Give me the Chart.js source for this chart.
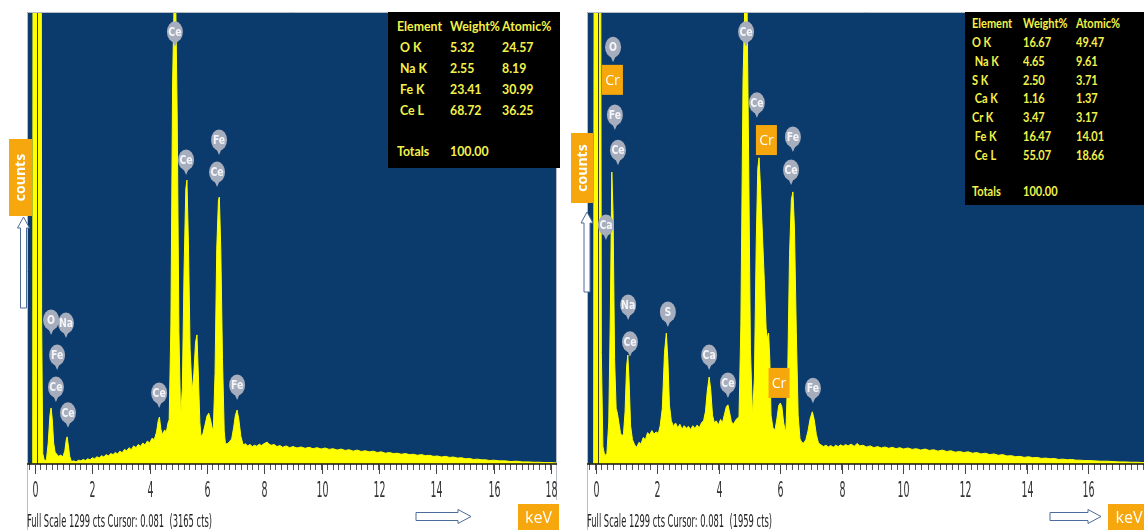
<!DOCTYPE html>
<html>
<head>
<meta charset="utf-8">
<script src="https://cdn.jsdelivr.net/npm/chart.js@4.4.1/dist/chart.umd.min.js"></script>
<style>
  body { margin: 0; width: 1144px; height: 530px; overflow: hidden; background: #fff; position: relative; }
  canvas { position: absolute; top: 0; }
  #specA { left: 0; }
  #specB { left: 570px; }
  .tbl { position: absolute; background: #000; overflow: hidden; color: #f3f24a;
         font-family: Lato, "Noto Sans", sans-serif; font-weight: bold; }
  .tbl span { position: absolute; white-space: pre; line-height: 1; transform: scaleX(0.88); transform-origin: left center; }
</style>
</head>
<body>
<canvas id="specA" width="570" height="530"></canvas>
<canvas id="specB" width="574" height="530"></canvas>
<div class="tbl" id="tblA" style="left:388px;top:12px;width:172px;height:156px;font-size:14px"></div>
<div class="tbl" id="tblB" style="left:965px;top:12px;width:190px;height:193px;font-size:12.5px"></div>
<script>
// ---- data (energy in keV, intensity in counts) ----
const fullScale = 1299;
const cursorKeV = 0.081;
const tickLabels = [0, 2, 4, 6, 8, 10, 12, 14, 16, 18];
const minorStep = 0.2;

const energyA = [-0.28, -0.08, -0.06, 0.08, 0.20, 0.23, 0.27, 0.33, 0.40, 0.46, 0.52, 0.56, 0.60, 0.65, 0.70, 0.76, 0.82, 0.90, 0.97, 1.04,
  1.09, 1.12, 1.16, 1.21, 1.27, 1.35, 1.43, 1.52, 1.60, 1.68, 1.76, 1.84, 1.92, 2.00, 2.08, 2.16, 2.24, 2.32, 2.40, 2.48,
  2.56, 2.64, 2.72, 2.80, 2.88, 2.96, 3.04, 3.12, 3.20, 3.28, 3.36, 3.44, 3.52, 3.60, 3.68, 3.76, 3.84, 3.92, 4.00, 4.08,
  4.16, 4.24, 4.30, 4.34, 4.39, 4.45, 4.52, 4.58, 4.64, 4.68, 4.74, 4.80, 4.85, 4.91, 4.96, 5.02, 5.08, 5.14, 5.20, 5.26,
  5.30, 5.35, 5.41, 5.48, 5.54, 5.60, 5.65, 5.70, 5.75, 5.79, 5.86, 5.93, 6.00, 6.06, 6.12, 6.18, 6.22, 6.28, 6.34, 6.40,
  6.43, 6.48, 6.54, 6.60, 6.64, 6.70, 6.78, 6.86, 6.93, 6.99, 7.05, 7.11, 7.18, 7.26, 7.34, 7.42, 7.50, 7.58, 7.66, 7.74,
  7.82, 7.90, 7.98, 8.05, 8.10, 8.16, 8.24, 8.34, 8.44, 8.54, 8.64, 8.76, 8.88, 9.00, 9.14, 9.28, 9.42, 9.56, 9.70, 9.84,
  9.98, 10.12, 10.26, 10.40, 10.54, 10.68, 10.82, 10.96, 11.10, 11.24, 11.38, 11.52, 11.66, 11.80, 11.94, 12.08, 12.22, 12.36, 12.50, 12.64,
  12.78, 12.92, 13.06, 13.20, 13.34, 13.48, 13.62, 13.76, 13.90, 14.04, 14.18, 14.32, 14.46, 14.60, 14.74, 14.88, 15.02, 15.16, 15.30, 15.44,
  15.58, 15.72, 15.86, 16.00, 16.20, 16.40, 16.60, 16.80, 17.00, 17.20, 17.40, 17.60, 17.80, 18.00, 18.21];
const countsA = [0, 0, 3165, 3165, 3165, 420, 30, 8, 14, 60, 140, 161, 130, 60, 34, 28, 22, 26, 20, 38,
  70, 78, 55, 22, 7, 9, 6, 11, 9, 13, 10, 15, 12, 18, 15, 21, 17, 24, 20, 27,
  23, 30, 27, 33, 29, 37, 32, 42, 38, 47, 41, 52, 47, 56, 51, 60, 55, 66, 60, 74,
  70, 92, 125, 135, 100, 84, 98, 92, 118, 127, 400, 1100, 1320, 1320, 1000, 380, 132, 220, 560, 790,
  816, 640, 330, 207, 260, 350, 371, 250, 120, 78, 88, 112, 138, 146, 128, 104, 98, 260, 620, 760,
  767, 620, 300, 95, 60, 57, 64, 72, 105, 140, 155, 128, 80, 55, 58, 52, 56, 50, 54, 51,
  57, 53, 58, 61, 63, 57, 54, 56, 50, 53, 48, 52, 47, 50, 46, 49, 45, 48, 44, 47,
  43, 46, 42, 44, 40, 43, 39, 41, 37, 40, 36, 38, 35, 37, 33, 35, 31, 33, 30, 31,
  28, 30, 27, 28, 25, 27, 24, 25, 22, 23, 20, 22, 19, 20, 17, 18, 15, 16, 13, 14,
  12, 12, 10, 11, 9, 9, 7, 8, 6, 6, 5, 5, 4, 4, 3];

const energyB = [-0.28, -0.06, -0.04, 0.08, 0.16, 0.19, 0.24, 0.30, 0.37, 0.43, 0.48, 0.53, 0.57, 0.62, 0.67, 0.71, 0.76, 0.81, 0.86, 0.91,
  0.96, 1.01, 1.05, 1.09, 1.14, 1.20, 1.27, 1.34, 1.41, 1.48, 1.55, 1.62, 1.69, 1.76, 1.83, 1.90, 1.97, 2.04, 2.10, 2.17,
  2.24, 2.30, 2.35, 2.40, 2.46, 2.53, 2.60, 2.67, 2.74, 2.81, 2.88, 2.95, 3.02, 3.09, 3.16, 3.23, 3.30, 3.37, 3.44, 3.51,
  3.57, 3.63, 3.69, 3.74, 3.80, 3.86, 3.92, 3.99, 4.06, 4.12, 4.18, 4.25, 4.30, 4.35, 4.41, 4.48, 4.55, 4.61, 4.66, 4.72,
  4.79, 4.85, 4.92, 4.97, 5.03, 5.10, 5.16, 5.22, 5.27, 5.31, 5.36, 5.42, 5.48, 5.54, 5.58, 5.62, 5.66, 5.70, 5.76, 5.83,
  5.89, 5.95, 6.00, 6.05, 6.11, 6.18, 6.24, 6.30, 6.36, 6.41, 6.46, 6.52, 6.58, 6.64, 6.70, 6.76, 6.83, 6.90, 6.97, 7.04,
  7.10, 7.17, 7.24, 7.32, 7.40, 7.48, 7.56, 7.64, 7.72, 7.80, 7.88, 7.96, 8.04, 8.12, 8.20, 8.30, 8.40, 8.50, 8.58, 8.68,
  8.80, 8.92, 9.04, 9.16, 9.28, 9.40, 9.52, 9.64, 9.76, 9.88, 10.00, 10.14, 10.28, 10.42, 10.56, 10.70, 10.84, 10.98, 11.12, 11.26,
  11.40, 11.54, 11.68, 11.82, 11.96, 12.10, 12.24, 12.38, 12.52, 12.66, 12.80, 12.94, 13.08, 13.22, 13.36, 13.50, 13.64, 13.78, 13.92, 14.06,
  14.20, 14.34, 14.48, 14.62, 14.76, 14.90, 15.04, 15.18, 15.32, 15.46, 15.60, 15.74, 15.88, 16.02, 16.20, 16.40, 16.60, 16.80, 17.00, 17.20,
  17.40, 17.60, 17.81];
const countsB = [0, 0, 1959, 1959, 1959, 320, 50, 24, 30, 120, 420, 839, 720, 300, 160, 146, 118, 90, 78, 88,
  150, 280, 313, 240, 110, 70, 55, 48, 62, 58, 76, 70, 90, 84, 96, 86, 92, 88, 110, 160,
  320, 376, 300, 170, 125, 108, 118, 104, 114, 100, 110, 103, 108, 99, 110, 102, 112, 104, 118, 125,
  150, 210, 250, 215, 140, 118, 124, 112, 128, 118, 140, 165, 170, 150, 122, 114, 126, 132, 135, 400,
  1100, 1330, 1330, 900, 330, 135, 250, 640, 850, 880, 790, 660, 530, 390, 360, 376, 300, 140, 104, 98,
  130, 168, 175, 165, 118, 89, 250, 600, 760, 782, 680, 380, 140, 72, 62, 60, 70, 95, 130, 150,
  128, 85, 60, 55, 50, 54, 49, 53, 48, 54, 50, 55, 51, 56, 52, 57, 51, 59, 52, 54,
  49, 52, 47, 50, 46, 49, 45, 48, 44, 47, 43, 46, 42, 44, 40, 43, 39, 41, 37, 40,
  36, 38, 34, 36, 33, 35, 31, 33, 29, 31, 27, 29, 25, 27, 23, 24, 21, 22, 19, 21,
  18, 19, 16, 17, 15, 16, 13, 14, 12, 13, 11, 11, 10, 10, 9, 8, 8, 7, 6, 6,
  5, 5, 4];

// element markers: [symbol, keV, counts] at the centre of each marker
const pinsA = [['O', 0.56, 414], ['Na', 1.08, 405], ['Fe', 0.77, 313], ['Ce', 0.73, 221], ['Ce', 1.15, 147],
  ['Ce', 4.33, 204], ['Ce', 4.88, 1242], ['Ce', 5.27, 874], ['Fe', 6.42, 931], ['Ce', 6.35, 839], ['Fe', 7.05, 227]];
const pinsB = [['O', 0.57, 1198], ['Fe', 0.63, 1003], ['Ce', 0.73, 902], ['Ca', 0.34, 687], ['Na', 1.06, 457], ['Ce', 1.12, 351],
  ['S', 2.35, 437], ['Ca', 3.69, 313], ['Ce', 4.30, 233], ['Ce', 4.89, 1242], ['Ce', 5.24, 1038], ['Fe', 6.41, 940],
  ['Ce', 6.35, 845], ['Fe', 7.06, 218]];
const crB = [['Cr', 0.55, 1104], ['Cr', 5.55, 931], ['Cr', 5.96, 233]];

// quantification tables
const elementsA = [' O K', ' Na K', ' Fe K', ' Ce L'];
const weightA = ['5.32', '2.55', '23.41', '68.72'];
const atomicA = ['24.57', '8.19', '30.99', '36.25'];
const elementsB = ['O K', ' Na K', 'S K', ' Ca K', 'Cr K', ' Fe K', ' Ce L'];
const weightB = ['16.67', '4.65', '2.50', '1.16', '3.47', '16.47', '55.07'];
const atomicB = ['49.47', '9.61', '3.71', '1.37', '3.17', '14.01', '18.66'];
const totals = '100.00';
const cursorCountsA = 3165;
const cursorCountsB = 1959;

// ---- drawing helpers ----
const ORANGE = '#f5a70d';

function squish(ctx, text, x, y, font, sx, align) {
  ctx.save();
  ctx.font = font;
  ctx.textAlign = align || 'left';
  ctx.translate(x, y);
  ctx.scale(sx, 1);
  ctx.fillText(text, 0, 0);
  ctx.restore();
}

function drawPin(ctx, px, py, text) {
  ctx.fillStyle = '#a6adbd';
  ctx.beginPath();
  ctx.ellipse(px, py, 8, 10.5, 0, 0, Math.PI * 2);
  ctx.fill();
  ctx.beginPath();
  ctx.moveTo(px - 3, py + 8);
  ctx.lineTo(px + 3, py + 8);
  ctx.lineTo(px, py + 15);
  ctx.closePath();
  ctx.fill();
  ctx.fillStyle = '#f4f5f8';
  ctx.textBaseline = 'middle';
  squish(ctx, text, px, py + 0.5, 'bold 13px "Liberation Sans Narrow", "DejaVu Sans Condensed", sans-serif', 0.8, 'center');
  ctx.textBaseline = 'alphabetic';
}

function drawBox(ctx, x, y, w, h, text, font, rotate) {
  ctx.fillStyle = ORANGE;
  ctx.fillRect(x, y, w, h);
  ctx.save();
  ctx.fillStyle = '#fff';
  ctx.font = font;
  ctx.textAlign = 'center';
  ctx.textBaseline = 'middle';
  ctx.translate(x + w / 2, y + h / 2);
  if (rotate) ctx.rotate(-Math.PI / 2);
  ctx.fillText(text, 0, 1);
  ctx.restore();
}

function blockArrow(ctx, pts) {
  ctx.beginPath();
  pts.forEach((p, i) => (i ? ctx.lineTo(p[0], p[1]) : ctx.moveTo(p[0], p[1])));
  ctx.closePath();
  ctx.fillStyle = '#fff';
  ctx.fill();
  ctx.strokeStyle = '#4d6b98';
  ctx.lineWidth = 1;
  ctx.stroke();
}

const edsDecor = {
  id: 'edsDecor',
  beforeDraw(chart) {
    const { ctx, chartArea: a } = chart;
    ctx.save();
    ctx.fillStyle = '#0b3a6c';
    ctx.fillRect(a.left, a.top, a.right - a.left, a.bottom - a.top);
    ctx.restore();
  },
  afterDraw(chart, args, o) {
    const { ctx, chartArea: a, scales: { x, y } } = chart;
    ctx.save();
    // cursor line
    const cx = Math.round(x.getPixelForValue(cursorKeV)) + 0.5;
    ctx.strokeStyle = '#3f4020';
    ctx.lineWidth = 1;
    ctx.beginPath(); ctx.moveTo(cx, a.top); ctx.lineTo(cx, a.bottom); ctx.stroke();
    // frame
    ctx.strokeStyle = '#b9bdc5';
    ctx.beginPath();
    ctx.moveTo(a.left + 0.5, 530); ctx.lineTo(a.left + 0.5, a.top + 0.5);
    ctx.lineTo(a.right, a.top + 0.5);
    if (o.rightFrame) { ctx.moveTo(a.right - 0.5, a.top); ctx.lineTo(a.right - 0.5, 500); }
    ctx.stroke();
    // axis line
    ctx.strokeStyle = '#111';
    ctx.lineWidth = 1.5;
    ctx.beginPath(); ctx.moveTo(a.left, a.bottom); ctx.lineTo(a.right, a.bottom); ctx.stroke();
    // major ticks and labels
    ctx.lineWidth = 1;
    ctx.strokeStyle = '#444';
    ctx.fillStyle = '#333';
    tickLabels.forEach(v => {
      if (v > x.max) return;
      const px = Math.round(x.getPixelForValue(v)) + 0.5;
      ctx.beginPath(); ctx.moveTo(px, a.bottom); ctx.lineTo(px, a.bottom + 10); ctx.stroke();
      squish(ctx, String(v), px, a.bottom + 33, '21px "Liberation Sans Narrow", "DejaVu Sans Condensed", sans-serif', 0.5, 'center');
    });
    // full scale text
    ctx.fillStyle = '#222';
    const fsFont = '17px "Liberation Sans Narrow", "DejaVu Sans Condensed", sans-serif';
    ctx.font = fsFont;
    const txt = 'Full Scale ' + fullScale + ' cts Cursor: ' + cursorKeV + '  (' + o.cursorCounts + ' cts)';
    const ref = ctx.measureText('Full Scale 1299 cts Cursor: 0.081  (3165 cts)').width;
    squish(ctx, txt, a.left, 527, fsFont, 185 / ref, 'left');
    // element markers
    o.pins.forEach(p => drawPin(ctx, x.getPixelForValue(p[1]), y.getPixelForValue(p[2]), p[0]));
    (o.boxes || []).forEach(p => {
      const bx = x.getPixelForValue(p[1]), by = y.getPixelForValue(p[2]);
      drawBox(ctx, bx - 10.5, by - 15, 21, 30, p[0], '14px "Open Sans", sans-serif', false);
    });
    // axis captions
    const c = o.counts;
    drawBox(ctx, c.x, c.y, c.w, c.h, 'counts', 'bold 14px "Open Sans", sans-serif', true);
    const u = o.upArrow;
    blockArrow(ctx, [[u.cx, u.tip], [u.cx + 6, u.base], [u.cx + 3, u.base], [u.cx + 3, u.end],
      [u.cx - 3, u.end], [u.cx - 3, u.base], [u.cx - 6, u.base]]);
    const r = o.rightArrow;
    blockArrow(ctx, [[r.tip, r.cy], [r.base, r.cy - 7], [r.base, r.cy - 4], [r.start, r.cy - 4],
      [r.start, r.cy + 4], [r.base, r.cy + 4], [r.base, r.cy + 7]]);
    const k = o.kev;
    drawBox(ctx, k.x, k.y, k.w, k.h, 'keV', '16px "Open Sans", sans-serif', false);
    ctx.restore();
  }
};

function minorTicks(min, max) {
  const t = [];
  for (let k = Math.ceil(min / minorStep); k * minorStep <= max + 1e-9; k++) {
    t.push({ value: Math.round(k * minorStep * 10) / 10 });
  }
  return t;
}

function makeChart(id, energy, counts, xMin, xMax, padding, deco) {
  return new Chart(document.getElementById(id), {
    type: 'line',
    data: {
      datasets: [{
        data: energy.map((e, i) => ({ x: e, y: counts[i] })),
        borderColor: '#ffff00',
        backgroundColor: '#ffff00',
        borderWidth: 1,
        pointRadius: 0,
        fill: 'origin',
        tension: 0
      }]
    },
    options: {
      responsive: false,
      animation: false,
      devicePixelRatio: 1,
      events: [],
      layout: { padding },
      scales: {
        x: {
          type: 'linear', min: xMin, max: xMax,
          afterBuildTicks: ax => { ax.ticks = minorTicks(xMin, xMax); },
          afterFit: ax => { ax.height = 40; },
          grid: { drawOnChartArea: false, drawTicks: true, tickLength: 6, color: '#555' },
          border: { display: false },
          ticks: { display: false }
        },
        y: { display: false, min: 0, max: fullScale }
      },
      plugins: { legend: { display: false }, tooltip: { enabled: false }, edsDecor: deco }
    },
    plugins: [edsDecor]
  });
}

makeChart('specA', energyA, countsA, -0.28, 18.21, { left: 27, right: 13, top: 12, bottom: 26 }, {
  pins: pinsA, cursorCounts: cursorCountsA, rightFrame: true,
  counts: { x: 9, y: 139, w: 23, h: 77 },
  upArrow: { cx: 23.5, tip: 217, base: 228, end: 308 },
  rightArrow: { start: 416, base: 458, tip: 471, cy: 516.5 },
  kev: { x: 518, y: 504, w: 41, h: 26 }
});
makeChart('specB', energyB, countsB, -0.276, 17.81, { left: 17, right: 0, top: 12, bottom: 26 }, {
  pins: pinsB, boxes: crB, cursorCounts: cursorCountsB, rightFrame: false,
  counts: { x: 1, y: 133, w: 22, h: 70 },
  upArrow: { cx: 17, tip: 212, base: 223, end: 292 },
  rightArrow: { start: 480, base: 518, tip: 531, cy: 516.5 },
  kev: { x: 538, y: 504, w: 42, h: 26 }
});

// tables
function fillTable(id, names, weights, atomics, cols, head, step, totalY) {
  const el = document.getElementById(id);
  const fs = parseFloat(el.style.fontSize);
  const put = (t, x, yc) => {
    const s = document.createElement('span');
    s.textContent = t;
    s.style.left = x + 'px';
    s.style.top = (yc - fs * 0.55) + 'px';
    el.appendChild(s);
  };
  put('Element', cols[0], head); put('Weight%', cols[1], head); put('Atomic%', cols[2], head);
  names.forEach((n, i) => {
    const yc = head + step * (i + 1);
    put(n, cols[0], yc); put(weights[i], cols[1], yc); put(atomics[i], cols[2], yc);
  });
  put('Totals', cols[0], totalY); put(totals, cols[1], totalY);
}
fillTable('tblA', elementsA, weightA, atomicA, [9, 62, 114], 15, 20.8, 140);
fillTable('tblB', elementsB, weightB, atomicB, [7, 58, 111], 13, 18.8, 181);
</script>
</body>
</html>
